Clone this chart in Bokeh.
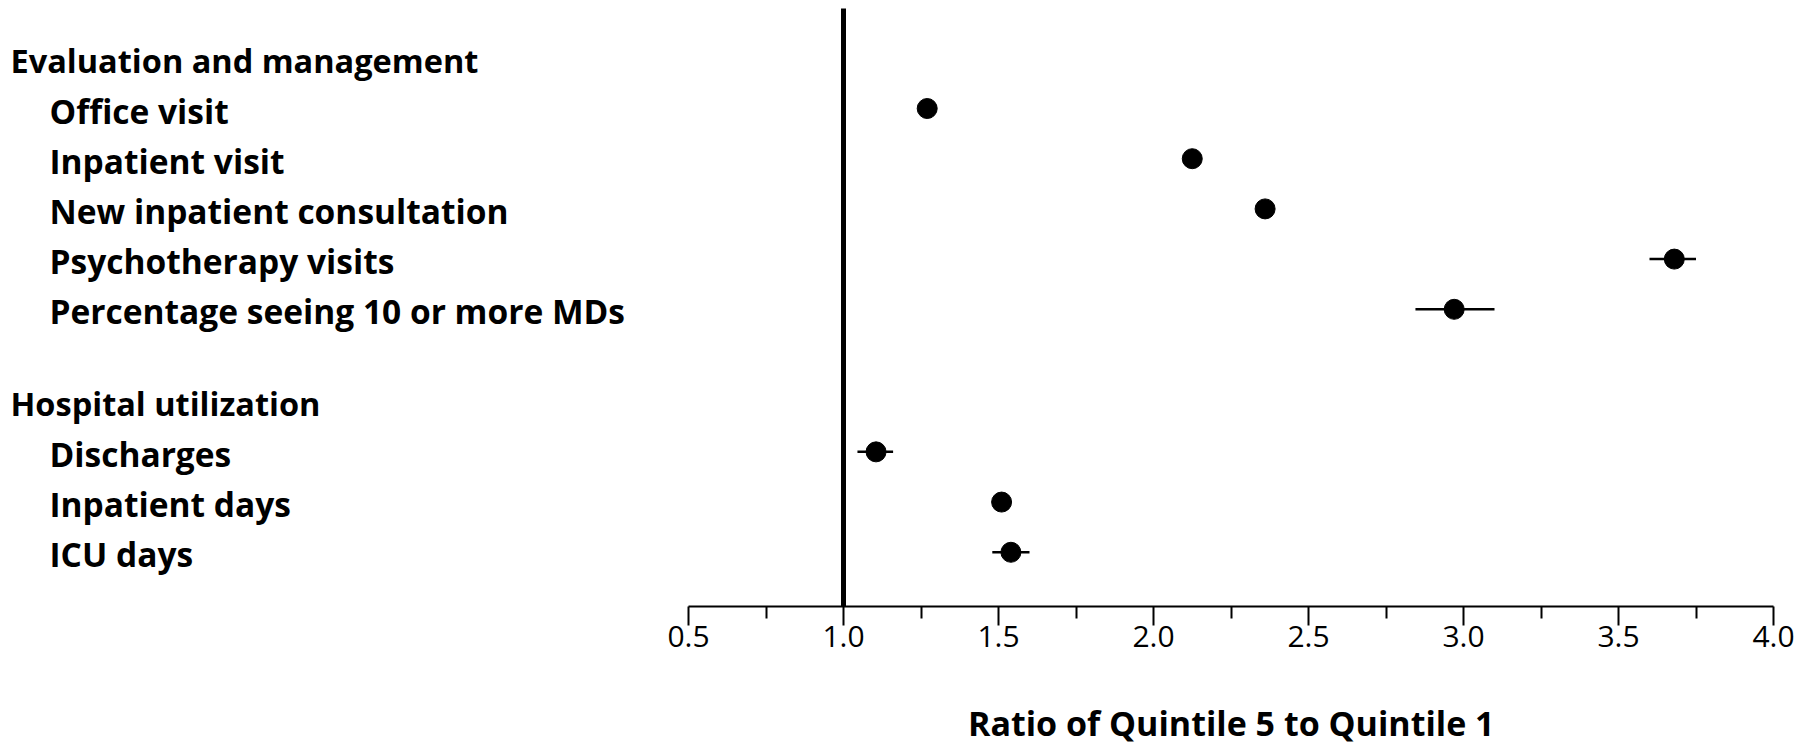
from bokeh.plotting import figure
from bokeh.models import (Range1d, LinearAxis, FixedTicker, PrintfTickFormatter,
                          Arrow, ColumnDataSource, Title)
from bokeh.core.properties import value
from bokeh.embed import file_html
from bokeh.resources import INLINE

# ---------------- data ----------------
group_names = ["Evaluation and management", "Hospital utilization"]
eval_items = ["Office visit", "Inpatient visit", "New inpatient consultation",
              "Psychotherapy visits", "Percentage seeing 10 or more MDs"]
eval_ratio = [1.27, 2.125, 2.36, 3.68, 2.97]
eval_lo = [1.26, 2.115, 2.35, 3.60, 2.845]
eval_hi = [1.28, 2.135, 2.37, 3.75, 3.10]

hosp_items = ["Discharges", "Inpatient days", "ICU days"]
hosp_ratio = [1.105, 1.51, 1.54]
hosp_lo = [1.045, 1.50, 1.48]
hosp_hi = [1.16, 1.52, 1.60]

x_ticks = [0.5, 1.0, 1.5, 2.0, 2.5, 3.0, 3.5, 4.0]
x_minor = [0.75, 1.25, 1.75, 2.25, 2.75, 3.25, 3.75]
reference_ratio = 1.0
x_title = "Ratio of Quintile 5 to Quintile 1"

# ---------------- layout helpers ----------------
W, H = 1810, 746
AXIS_PX = 606          # pixel row of the x axis line
X0_PX, X1_PX = 688, 1773   # pixel position of 0.5 and 4.0
px_per_x = (X1_PX - X0_PX) / (x_ticks[-1] - x_ticks[0])
x_start = x_ticks[0] - X0_PX / px_per_x
x_end = x_start + W / px_per_x

ROW_PX = 50.2
ROW1_PX = 108.0        # pixel of first item row (row index 1)
GROUP_GAP = 0.84

TITLE_FONT_PX = 34
TITLE_WIDTH_EST = 526   # approximate rendered width of the title text


def row_of_px(py):
    return 1 + (py - ROW1_PX) / ROW_PX


y_top = row_of_px(0)
y_bot = row_of_px(AXIS_PX)

# build row positions
header_rows, item_rows, item_labels, ratios, los, his = [], [], [], [], [], []
r = 0.0
groups = [(eval_items, eval_ratio, eval_lo, eval_hi),
          (hosp_items, hosp_ratio, hosp_lo, hosp_hi)]
for gi, (items, rat, lo, hi) in enumerate(groups):
    if gi > 0:
        r += GROUP_GAP
    header_rows.append(r)
    r += 1
    for it, v, l, h in zip(items, rat, lo, hi):
        item_rows.append(r)
        item_labels.append(it)
        ratios.append(v)
        los.append(l)
        his.append(h)
        r += 1

src = ColumnDataSource(dict(y=item_rows, label=item_labels, ratio=ratios, lo=los, hi=his,
                            lx=[x_start] * len(item_rows)))
hsrc = ColumnDataSource(dict(y=header_rows, label=group_names, lx=[x_start] * len(header_rows)))

p = figure(width=W, height=H, x_range=Range1d(x_start, x_end), y_range=Range1d(y_bot, y_top),
           x_axis_type=None, y_axis_type=None, toolbar_location=None, output_backend="svg",
           min_border_left=0, min_border_right=0, min_border_top=0, min_border_bottom=H - AXIS_PX,
           outline_line_color=None, background_fill_color="white", border_fill_color="white")
p.xgrid.visible = False
p.ygrid.visible = False

LABEL_FONT = value("Open Sans")
p.text(x="lx", y="y", text="label", source=hsrc, x_offset=10, y_offset=2,
       text_font=LABEL_FONT, text_font_style="bold", text_font_size="32.5px",
       text_baseline="middle", text_align="left", text_color="black")
p.text(x="lx", y="y", text="label", source=src, x_offset=49, y_offset=2,
       text_font=LABEL_FONT, text_font_style="bold", text_font_size="33.5px",
       text_baseline="middle", text_align="left", text_color="black")

# reference line at ratio 1 (extends slightly below the axis)
p.add_layout(Arrow(end=None, start=None, x_start=reference_ratio, x_end=reference_ratio,
                   y_start=row_of_px(8), y_end=row_of_px(630),
                   line_color="black", line_width=5))

p.segment(x0="lo", x1="hi", y0="y", y1="y", source=src, line_color="black", line_width=2.5)
p.scatter(x="ratio", y="y", source=src, size=20, marker="circle",
          fill_color="black", line_color="black")

ax = LinearAxis(ticker=FixedTicker(ticks=x_ticks, minor_ticks=x_minor),
                formatter=PrintfTickFormatter(format="%.1f"),
                bounds=(x_ticks[0], x_ticks[-1]),
                axis_line_width=2, axis_line_color="black",
                major_tick_line_width=2, major_tick_line_color="black",
                minor_tick_line_width=2, minor_tick_line_color="black",
                major_tick_in=0, major_tick_out=19, minor_tick_in=0, minor_tick_out=12,
                major_label_text_font="Open Sans", major_label_text_font_size="30px",
                major_label_text_color="black", major_label_standoff=0)
p.add_layout(ax, "below")

# empty spacer between tick labels and the axis title
p.add_layout(Title(text=" ", text_font_size="26px", standoff=16), "below")

# axis title centred under the axis bounds (the title panel spans the full frame width)
centre_px = (X0_PX + X1_PX) / 2
p.add_layout(Title(text=x_title, align="left", offset=centre_px - TITLE_WIDTH_EST / 2,
                   text_font="Open Sans", text_font_style="bold",
                   text_font_size=f"{TITLE_FONT_PX}px", text_color="black",
                   standoff=0), "below")

open("out.html", "w").write(file_html(p, INLINE))
